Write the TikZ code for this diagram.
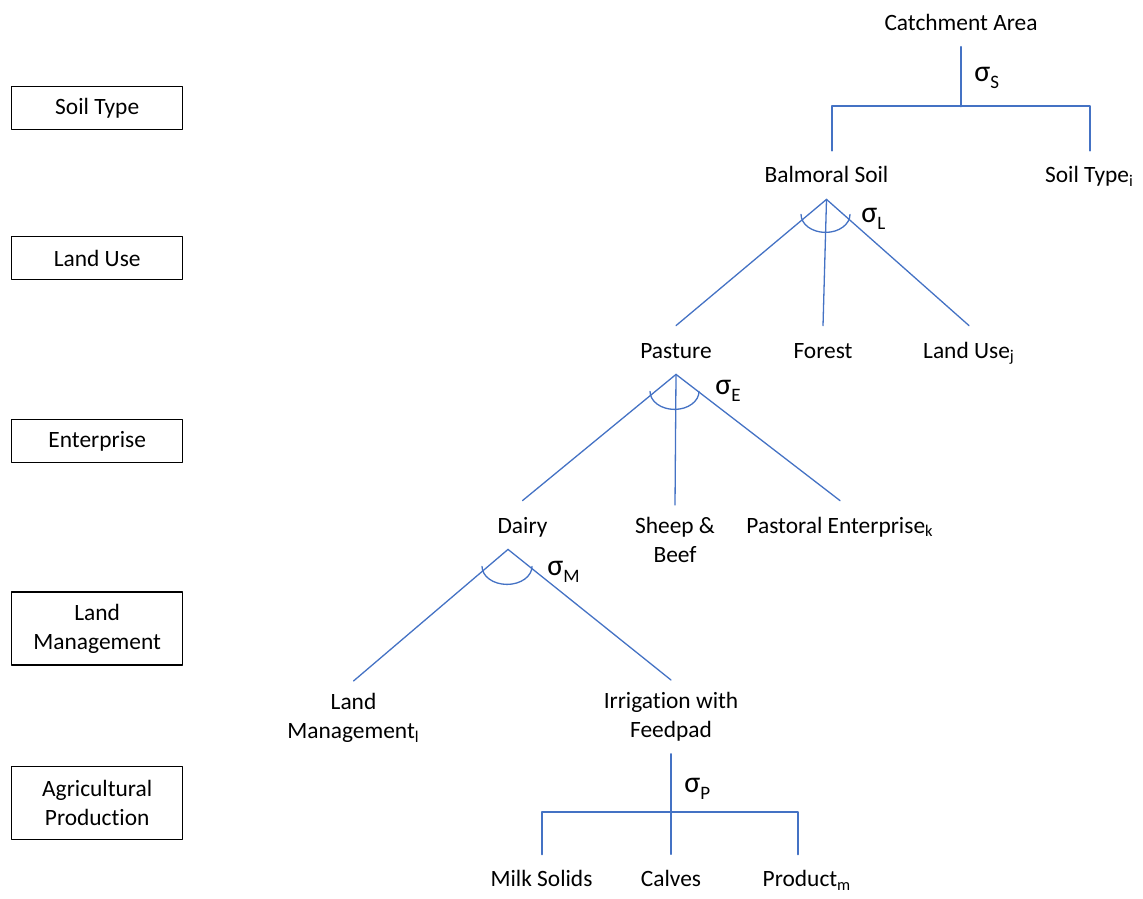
\documentclass[tikz,border=0pt]{standalone}
\usepackage{fontspec}
\setmainfont{Carlito}[RawFeature=-liga]
\definecolor{treeblue}{RGB}{68,114,196}
\newcommand{\sigmalabel}[1]{{\fontsize{15}{15}\selectfont σ}\raisebox{-3.5pt}{\fontsize{9.5}{10}\selectfont #1}}
\tikzset{
  level/.style={draw, line width=0.6pt, minimum width=85.5pt, minimum height=21.5pt, align=center,
    font=\fontsize{11.7}{14.5}\selectfont},
  item/.style={text height=8pt, text depth=0pt, inner xsep=0pt, inner ysep=8pt, anchor=base,
    font=\fontsize{11.7}{14.5}\selectfont},
  itemtwo/.style={align=center, inner xsep=0pt, inner ysep=6pt, anchor=north,
    font=\fontsize{11.7}{14.5}\selectfont},
  siglabel/.style={inner sep=0pt, anchor=base west},
  branch/.style={draw=treeblue, line width=0.65pt},
  bracket/.style={draw=treeblue, line width=1pt},
}
\begin{document}
\begin{tikzpicture}[line cap=round, line join=round, x=0.5pt, y=-0.5pt]
                \useasboundingbox (0,0) rectangle (1143,898);

                % levels on the left
                \node[level] (lvS) at (97.2,108.3) {Soil Type};
                \node[level] (lvL) at (97.2,258.3) {Land Use};
                \node[level] (lvE) at (97.2,441) {Enterprise};
                \node[level, minimum height=36.5pt] (lvM) at (97.2,628.5) {Land\\Management};
                \node[level, minimum height=36.5pt] (lvP) at (97.2,803) {Agricultural\\Production};

                % tree nodes
                \node[item] (ca) at (961,30.5) {Catchment Area};
                \node[item] (bal) at (826.5,183) {Balmoral Soil};
                \node[item] (sti) at (1089.5,183) {Soil Type\textsubscript{i}};
                \node[item] (pas) at (676,358) {Pasture};
                \node[item] (for) at (823,358) {Forest};
                \node[item] (luj) at (969,358) {Land Use\textsubscript{j}};
                \node[item] (dai) at (522.5,533) {Dairy};
                \node[itemtwo] (sb) at (675,505) {Sheep \&\\Beef};
                \node[item] (pek) at (840,533) {Pastoral Enterprise\textsubscript{k}};
                \node[itemtwo] (lml) at (353.5,681) {Land\\Management\textsubscript{l}};
                \node[itemtwo] (irr) at (671,680) {Irrigation with\\Feedpad};
                \node[item] (ms) at (541.5,886.7) {Milk Solids};
                \node[item] (cal) at (671,886.7) {Calves};
                \node[item] (prm) at (807,886.7) {Product\textsubscript{m}};

                % sigma labels
                \node[siglabel] (sigS) at (974,82) {\sigmalabel{S}};
                \node[siglabel] (sigL) at (861,223) {\sigmalabel{L}};
                \node[siglabel] (sigE) at (715,394.5) {\sigmalabel{E}};
                \node[siglabel] (sigM) at (547,575) {\sigmalabel{M}};
                \node[siglabel] (sigP) at (684,792) {\sigmalabel{P}};

                % soil type split
                \coordinate (jS) at (961,106.5);
                \draw[bracket] (ca.south) -- (jS);
                \draw[bracket] ([xshift=2.75pt]bal.north) |- (jS) -| (sti.north);

                % land use split
                \draw[branch] (bal.south) -- (pas.north);
                \draw[branch] (bal.south) -- (for.north);
                \draw[branch] (bal.south) -- (luj.north);
                \draw[branch] ([shift={(-12.75pt,-7.5pt)}]bal.south) arc[start angle=180, end angle=360, x radius=12.25pt, y radius=9pt];

                % enterprise split
                \draw[branch] (pas.south) -- (dai.north);
                \draw[branch] (pas.south) -- (sb.north);
                \draw[branch] (pas.south) -- (pek.north);
                \draw[branch] ([shift={(-13pt,-8.5pt)}]pas.south) arc[start angle=180, end angle=360, x radius=12.25pt, y radius=9pt];

                % land management split
                \coordinate (apexM) at ([xshift=-7.25pt]dai.south);
                \draw[branch] (apexM) -- (lml.north);
                \draw[branch] (apexM) -- (irr.north);
                \draw[branch] ([shift={(-13pt,-8.5pt)}]apexM) arc[start angle=180, end angle=360, x radius=12.5pt, y radius=9pt];

                % production split
                \coordinate (jP) at (671,811.5);
                \draw[branch] (irr.south) -- (jP) -- (cal.north);
                \draw[bracket] (ms.north) |- (jP) -| ([xshift=-4.5pt]prm.north);

\end{tikzpicture}
\end{document}
